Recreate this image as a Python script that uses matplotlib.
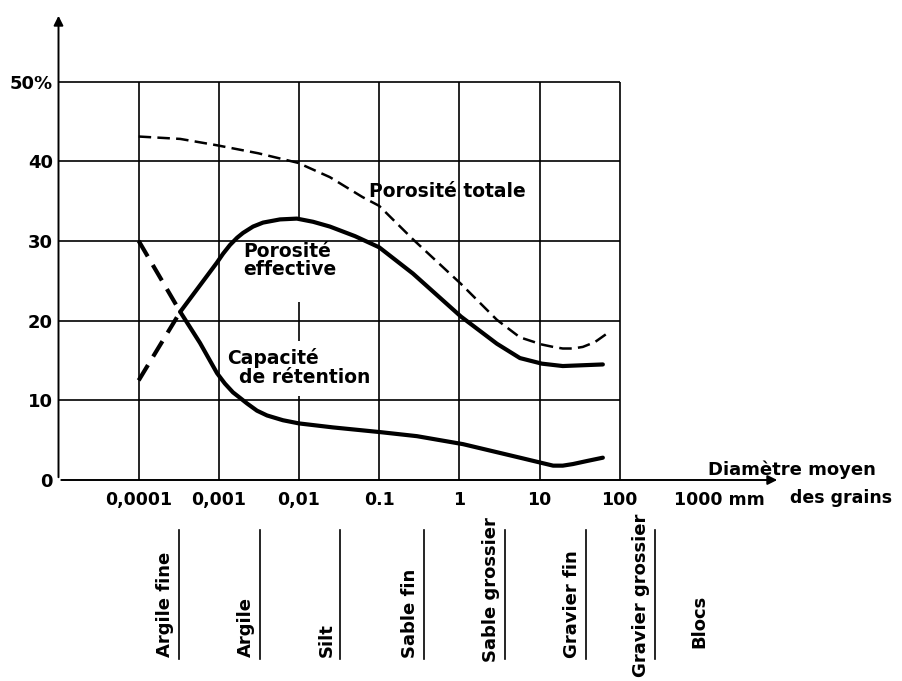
import matplotlib
matplotlib.use("Agg")
import matplotlib.pyplot as plt
from matplotlib import transforms
from matplotlib.ticker import NullLocator

plt.rcParams["font.family"] = ["DejaVu Sans"]
plt.rcParams["font.weight"] = "bold"

# grain diameter (mm) -> porosity (%)
TOTALE_D = [1e-4, 3.3e-4, 9.5e-4, 3.1e-3, 9.7e-3, 2.43e-2, 6.2e-2, 0.1, 0.264, 1.05, 2.94,
            5.7, 10.7, 14.8, 19.5, 26.1, 34.7, 49, 70]
TOTALE = [43.1, 42.8, 42.0, 41.0, 39.8, 38.0, 35.5, 34.4, 30.2, 24.6, 20.1,
          17.9, 17.0, 16.7, 16.5, 16.5, 16.7, 17.3, 18.4]

EFFECTIVE_D = [3.3e-4, 9.5e-4, 1.13e-3, 1.38e-3, 1.69e-3, 2.0e-3, 2.67e-3, 3.56e-3, 5.8e-3,
               9.4e-3, 1.5e-2, 2.43e-2, 4.99e-2, 0.1, 0.264, 1.05, 2.94, 5.7, 10.7, 19.5,
               34.7, 61.7]
EFFECTIVE = [21.1, 27.3, 28.4, 29.5, 30.4, 31.0, 31.8, 32.3, 32.7,
             32.8, 32.4, 31.8, 30.6, 29.2, 25.9, 20.5, 17.1, 15.3, 14.6, 14.3,
             14.4, 14.5]
EFFECTIVE_EXT_D = [1e-4, 3.3e-4]
EFFECTIVE_EXT = [12.5, 21.1]

RETENTION_D = [3.3e-4, 5.82e-4, 9.5e-4, 1.19e-3, 1.5e-3, 1.84e-3, 2.25e-3, 2.99e-3, 3.99e-3,
               6.3e-3, 1e-2, 2.65e-2, 0.105, 0.296, 1.11, 3.2, 5.7, 11.1, 14.8, 19.5,
               26.1, 39.8, 61.7]
RETENTION = [21.1, 17.2, 13.4, 12.1, 11.0, 10.3, 9.6, 8.7, 8.1,
             7.5, 7.1, 6.6, 6.0, 5.5, 4.5, 3.4, 2.8, 2.1, 1.8, 1.8,
             2.0, 2.4, 2.8]
RETENTION_EXT_D = [1e-4, 3.3e-4]
RETENTION_EXT = [30.0, 21.1]

X_TICKS = [1e-4, 1e-3, 1e-2, 1e-1, 1, 10, 100, 1000]
X_TICK_LABELS = ["0,0001", "0,001", "0,01", "0.1", "1", "10", "100", "1000 mm"]
Y_TICKS = [0, 10, 20, 30, 40, 50]
Y_TICK_LABELS = ["0", "10", "20", "30", "40", "50%"]

CLASSES = ["Argile fine", "Argile", "Silt", "Sable fin", "Sable grossier",
           "Gravier fin", "Gravier grossier", "Blocs"]

# layout: log10 of label centre, bottom of label in pixels from top
CLASS_LOGX = [-3.67, -2.66, -1.66, -0.62, 0.39, 1.40, 2.26, 3.0]
CLASS_BOTTOM = [657, 657, 657, 658, 662, 658, 677, 648]

W, H = 902, 681
fig = plt.figure(figsize=(W / 100, H / 100), dpi=100)
ax = fig.add_axes([58.5 / W, 1 - 480 / H, 721.5 / W, 467 / H])
ax.set_xscale("log")
for s in ax.spines.values():
    s.set_visible(False)

# grid box (the 0,01 line sits under the label boxes, which break it)
grid_x = X_TICKS[:7]
ax.hlines(Y_TICKS[1:], 1e-5, grid_x[-1], color="black", lw=1.2, zorder=3.5)
ax.vlines([g for g in grid_x if g != 1e-2], 0, Y_TICKS[-1], color="black", lw=1.2, zorder=3.5)
ax.vlines([1e-2], 0, Y_TICKS[-1], color="black", lw=1.2, zorder=1)

# axes with arrows
ax.annotate("", xy=(1e-5, 58.6), xytext=(1e-5, 0),
            arrowprops=dict(arrowstyle="-|>", lw=1.4, color="black", mutation_scale=14),
            annotation_clip=False)
ax.annotate("", xy=(1e4, 0), xytext=(1e-5, 0),
            arrowprops=dict(arrowstyle="-|>", lw=1.4, color="black", mutation_scale=14),
            annotation_clip=False)

# curves
ax.plot(TOTALE_D, TOTALE, color="black", lw=1.8, dashes=(5, 2.5), zorder=4)
ax.plot(EFFECTIVE_D, EFFECTIVE, color="black", lw=3, zorder=4,
        solid_capstyle="round", solid_joinstyle="round")
ax.plot(RETENTION_D, RETENTION, color="black", lw=3, zorder=4,
        solid_capstyle="round", solid_joinstyle="round")
ax.plot(EFFECTIVE_EXT_D, EFFECTIVE_EXT, color="black", lw=3, dashes=(4.3, 2.4), zorder=4)
ax.plot(RETENTION_EXT_D, RETENTION_EXT, color="black", lw=3, dashes=(4.3, 2.4), zorder=4)

# curve labels; white boxes (drawn first) break the vertical grid line behind them
fs = 13.5
ax.text(10 ** -1.13, 36.2, "Porosité totale", fontsize=fs, ha="left", va="center", zorder=3)
labels = [
    (10 ** -2.69, 27.5, "Porosité\neffective", 1.2),
    (10 ** -2.9, 15.3, "Capacité", 0.4),
    (10 ** -2.75, 12.8, "de rétention", 0.45),
]
for x, y, txt, pad in labels:
    ax.text(x, y, txt, fontsize=fs, ha="left", va="center", linespacing=0.95,
            color="none", zorder=2.5,
            bbox=dict(boxstyle=f"square,pad={pad}", fc="white", ec="none"))
    ax.text(x, y, txt, fontsize=fs, ha="left", va="center", linespacing=0.95, zorder=3)

# ticks
ax.set_xticks(X_TICKS, X_TICK_LABELS)
ax.xaxis.set_minor_locator(NullLocator())
ax.set_yticks(Y_TICKS, Y_TICK_LABELS)
ax.tick_params(axis="x", length=0, pad=8, labelsize=12.5)
ax.tick_params(axis="y", length=0, pad=4, labelsize=13)
last = ax.get_xticklabels()[-1]
last.set_transform(last.get_transform() + transforms.ScaledTranslation(0.2, 0, fig.dpi_scale_trans))

fig.text(708 / W, 1 - 470 / H, "Diamètre moyen", fontsize=13, ha="left", va="center")
fig.text(790 / W, 1 - 498 / H, "des grains", fontsize=12.5, ha="left", va="center")

# grain-size classes
trans = transforms.blended_transform_factory(ax.transData, fig.transFigure)
for name, lx, bottom in zip(CLASSES, CLASS_LOGX, CLASS_BOTTOM):
    ax.text(10 ** lx, 1 - bottom / H, name, transform=trans, rotation=90,
            ha="center", va="bottom", fontsize=13, clip_on=False)
    if name != "Blocs":
        ax.plot([10 ** (lx + 0.175)] * 2, [1 - 530 / H, 1 - 659 / H], transform=trans,
                color="black", lw=1.2, clip_on=False)

ax.set_xlim(1e-5, 1e4)
ax.set_ylim(0, 58.6)
fig.savefig("out.png", dpi=100)
